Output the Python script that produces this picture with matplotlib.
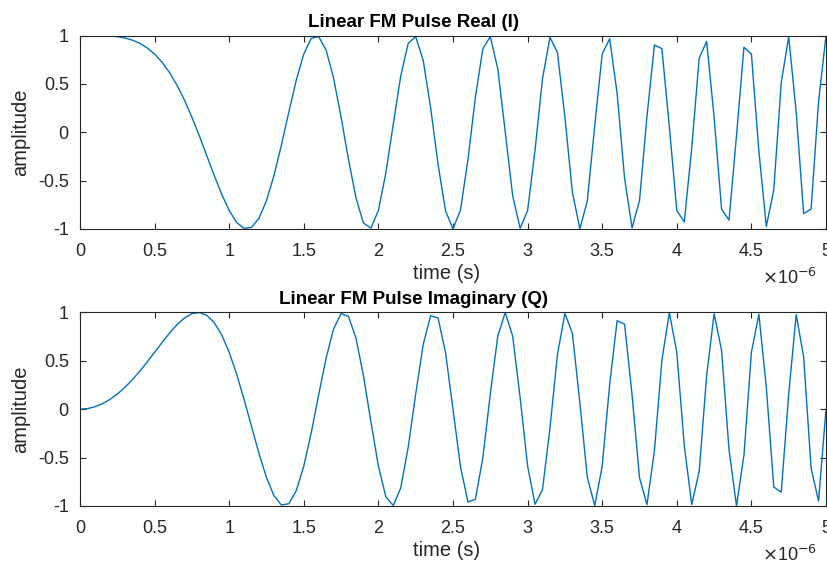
import matplotlib
matplotlib.use("Agg")
from matplotlib import pyplot as plt
import numpy as np

# sample times in microseconds (0.05 us steps, 0..5 us)
t_us = np.arange(101) * 0.05

real_i = [1.000, 1.000, 1.000, 0.998, 0.995, 0.988, 0.975, 0.953, 0.920, 0.873,
          0.809, 0.724, 0.618, 0.487, 0.333, 0.156, -0.038, -0.243, -0.448, -0.642,
          -0.809, -0.932, -0.995, -0.983, -0.888, -0.707, -0.448, -0.132, 0.212, 0.541,
          0.809, 0.970, 0.989, 0.848, 0.557, 0.156, -0.285, -0.680, -0.939, -0.991,
          -0.809, -0.420, 0.088, 0.583, 0.920, 0.988, 0.746, 0.255, -0.333, -0.813,
          -1.000, -0.805, -0.285, 0.362, 0.864, 0.988, 0.657, 0.006, -0.657, -0.993,
          -0.809, -0.181, 0.557, 0.981, 0.824, 0.156, -0.618, -0.998, -0.711, 0.069,
          0.809, 0.967, 0.403, -0.476, -0.989, -0.707, 0.163, 0.902, 0.864, 0.057,
          -0.809, -0.927, -0.163, 0.766, 0.939, 0.156, -0.794, -0.908, -0.038, 0.879,
          0.809, -0.194, -0.975, -0.593, 0.514, 0.988, 0.212, -0.841, -0.794, 0.315,
          1.000]

imag_q = [0.000, 0.006, 0.025, 0.057, 0.100, 0.156, 0.224, 0.303, 0.391, 0.487,
          0.588, 0.689, 0.786, 0.873, 0.943, 0.988, 0.999, 0.970, 0.894, 0.767,
          0.588, 0.362, 0.100, -0.181, -0.460, -0.707, -0.894, -0.991, -0.977, -0.841,
          -0.588, -0.243, 0.150, 0.531, 0.831, 0.988, 0.959, 0.733, 0.345, -0.132,
          -0.588, -0.907, -0.996, -0.813, -0.391, 0.156, 0.666, 0.967, 0.943, 0.583,
          0.000, -0.593, -0.959, -0.932, -0.504, 0.156, 0.754, 1.000, 0.754, 0.119,
          -0.588, -0.983, -0.831, -0.194, 0.567, 0.988, 0.786, 0.069, -0.703, -0.998,
          -0.588, 0.255, 0.915, 0.879, 0.150, -0.707, -0.987, -0.431, 0.504, 0.998,
          0.588, -0.374, -0.987, -0.642, 0.345, 0.988, 0.608, -0.420, -0.999, -0.476,
          0.588, 0.981, 0.224, -0.805, -0.858, 0.156, 0.977, 0.541, -0.608, -0.949,
          0.000]

titles = ["Linear FM Pulse Real (I)", "Linear FM Pulse Imaginary (Q)"]
x_ticks = [0, 0.5, 1, 1.5, 2, 2.5, 3, 3.5, 4, 4.5, 5]
y_ticks = [-1, -0.5, 0, 0.5, 1]

plt.rcParams["font.family"] = ["Liberation Sans", "DejaVu Sans"]
line_col = "#0072BD"
axis_col = "#262626"

fig = plt.figure(figsize=(8.28, 5.64), dpi=100)
boxes = [[0.0966, 0.594, 0.901, 0.343], [0.0966, 0.103, 0.901, 0.343]]

for box, data, title in zip(boxes, [real_i, imag_q], titles):
    ax = fig.add_axes(box)
    ax.plot(t_us, data, color=line_col, lw=1.0)
    ax.set_xlim(0, 5)
    ax.set_ylim(-1, 1)
    ax.set_xticks(x_ticks)
    ax.set_xticklabels(["%g" % v for v in x_ticks])
    ax.set_yticks(y_ticks)
    ax.set_yticklabels(["%g" % v for v in y_ticks])
    ax.tick_params(direction="in", length=4, width=0.8, top=True, right=True,
                   labelsize=13, colors=axis_col)
    ax.tick_params(axis="x", pad=10)
    ax.tick_params(axis="y", pad=8)
    for s in ax.spines.values():
        s.set_color(axis_col)
        s.set_linewidth(0.8)
    ax.set_title(title, fontsize=13.5, fontweight="bold", color="black",
                 x=0.447, pad=6)
    ax.set_xlabel("time (s)", fontsize=14.5, color=axis_col, labelpad=3, x=0.492)
    ax.set_ylabel("amplitude", fontsize=14.5, color=axis_col, labelpad=6)
    ax.text(0.988, -0.2, r"$\times$10$^{-6}$", transform=ax.transAxes,
            ha="right", va="top", fontsize=13, color=axis_col)

fig.savefig("out.png", dpi=100)
